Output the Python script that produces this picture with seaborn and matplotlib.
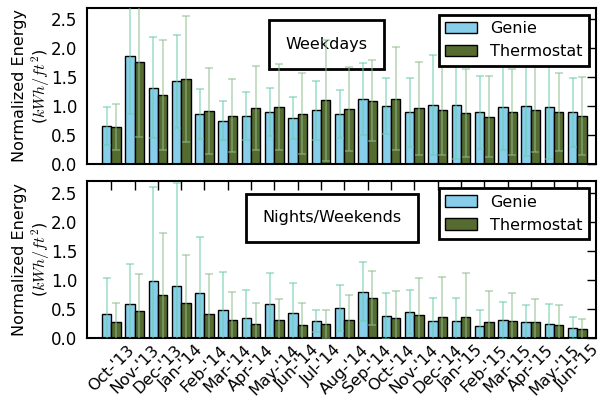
import numpy as np
import pandas as pd
import matplotlib
matplotlib.use("Agg")
import matplotlib.pyplot as plt
from matplotlib.patches import Patch
import seaborn as sns

months = ["Oct-'13", "Nov-'13", "Dec-'13", "Jan-'14", "Feb-'14", "Mar-'14", "Apr-'14",
          "May-'14", "Jun-'14", "Jul-'14", "Aug-'14", "Sep-'14", "Oct-'14", "Nov-'14",
          "Dec-'14", "Jan-'15", "Feb-'15", "Mar-'15", "Apr-'15", "May-'15", "Jun-'15"]

# weekdays
wd_genie = [0.65, 1.87, 1.32, 1.43, 0.86, 0.75, 0.83, 0.90, 0.79, 0.93, 0.86,
            1.12, 1.00, 0.89, 1.02, 1.02, 0.89, 0.98, 1.01, 0.98, 0.89]
wd_genie_err = [0.33, 1.00, 0.87, 0.80, 0.43, 0.34, 0.41, 0.42, 0.36, 0.51, 0.41,
                0.62, 0.49, 0.60, 0.86, 0.93, 0.63, 0.74, 0.88, 0.90, 0.60]
wd_thermo = [0.64, 1.76, 1.19, 1.47, 0.91, 0.83, 0.97, 0.99, 0.87, 1.10, 0.95,
             1.09, 1.13, 0.96, 0.93, 0.88, 0.82, 0.90, 0.94, 0.90, 0.83]
wd_thermo_err = [0.39, 1.29, 0.95, 1.09, 0.74, 0.63, 0.72, 0.74, 0.70, 1.04, 0.73,
                 0.70, 0.89, 0.81, 0.78, 0.76, 0.70, 0.74, 0.74, 0.68, 0.67]

# nights / weekends
nw_genie = [0.41, 0.57, 0.97, 0.88, 0.76, 0.47, 0.34, 0.57, 0.43, 0.285, 0.51,
            0.79, 0.37, 0.44, 0.29, 0.29, 0.205, 0.30, 0.26, 0.235, 0.165]
nw_genie_err = [0.62, 0.69, 1.63, 1.78, 0.97, 0.66, 0.48, 0.54, 0.51, 0.185, 0.39,
                0.51, 0.39, 0.38, 0.40, 0.40, 0.27, 0.32, 0.30, 0.335, 0.195]
nw_thermo = [0.26, 0.45, 0.74, 0.59, 0.40, 0.30, 0.23, 0.30, 0.21, 0.235, 0.31,
             0.68, 0.33, 0.38, 0.36, 0.36, 0.275, 0.29, 0.26, 0.21, 0.14]
nw_thermo_err = [0.34, 0.64, 1.06, 0.83, 0.69, 0.49, 0.37, 0.37, 0.38, 0.235, 0.42,
                 0.47, 0.47, 0.64, 0.69, 0.75, 0.52, 0.47, 0.41, 0.35, 0.18]

groups = ["Genie", "Thermostat"]
colors = {"Genie": "#87CEEB", "Thermostat": "#556B2F"}
err_colors = {"Genie": "mediumaquamarine", "Thermostat": "darkseagreen"}

sns.set_style("white")
plt.rcParams["mathtext.fontset"] = "cm"
plt.rcParams["font.family"] = ["DejaVu Sans"]
plt.rcParams["text.color"] = "black"
plt.rcParams["axes.labelcolor"] = "black"
plt.rcParams["xtick.color"] = "black"
plt.rcParams["ytick.color"] = "black"


def draw_panel(ax, genie, genie_err, thermo, thermo_err, title, title_x):
    df = pd.DataFrame({
        "month": months * 2,
        "type": ["Genie"] * len(months) + ["Thermostat"] * len(months),
        "energy": list(genie) + list(thermo),
    })
    sns.barplot(data=df, x="month", y="energy", hue="type", order=months,
                hue_order=groups, palette=colors, saturation=1, width=0.8,
                edgecolor="black", linewidth=1, errorbar=None, legend=False, ax=ax)

    pos = np.arange(len(months))
    for off, g, vals, errs in [(-0.2, "Genie", genie, genie_err),
                               (0.2, "Thermostat", thermo, thermo_err)]:
        ax.errorbar(pos + off, vals, yerr=errs, fmt="none", ecolor=err_colors[g],
                    alpha=0.6, capsize=3, elinewidth=1.2, capthick=1.2, zorder=3)

    ax.text(title_x, 0.765, title, transform=ax.transAxes, ha="center", va="center",
            fontsize=11.5, zorder=2.5,
            bbox=dict(facecolor="white", edgecolor="black", linewidth=2, pad=12))

    handles = [Patch(facecolor=colors[g], edgecolor="black", linewidth=1, label=g) for g in groups]
    leg = ax.legend(handles=handles, loc="upper right", fancybox=False, framealpha=1,
                    edgecolor="black", fontsize=11.5, borderaxespad=0.45)
    leg.get_frame().set_linewidth(2)
    leg.set_zorder(5)

    ax.set_xlim(-1.04, 20.8)
    ax.set_ylim(0, 2.7)
    ax.set_yticks([0.0, 0.5, 1.0, 1.5, 2.0, 2.5])
    ax.set_yticklabels(["0.0", "0.5", "1.0", "1.5", "2.0", "2.5"])
    ax.set_xlabel("")
    ax.set_ylabel("Normalized Energy\n($kWh/ft^2$)", fontsize=11.5, labelpad=-1)
    ax.tick_params(direction="in", top=True, right=True, length=6.5, width=1, labelsize=12)
    ax.tick_params(axis="y", pad=7)
    for s in ax.spines.values():
        s.set_linewidth(1.5)
        s.set_color("black")


fig = plt.figure(figsize=(6.01, 4.03), dpi=100)
ax1 = fig.add_axes([0.1448, 0.593, 0.847, 0.388])
ax2 = fig.add_axes([0.1448, 0.1625, 0.847, 0.3885])

draw_panel(ax1, wd_genie, wd_genie_err, wd_thermo, wd_thermo_err, "Weekdays", 0.4705)
draw_panel(ax2, nw_genie, nw_genie_err, nw_thermo, nw_thermo_err, "Nights/Weekends", 0.481)

# top panel: no x ticks at all
ax1.tick_params(axis="x", top=False, bottom=False, labelbottom=False)
ax2.set_xticks(np.arange(len(months)))
ax2.set_xticklabels(months, rotation=45, ha="center", fontsize=11.5)

fig.savefig("out.png", dpi=100)
